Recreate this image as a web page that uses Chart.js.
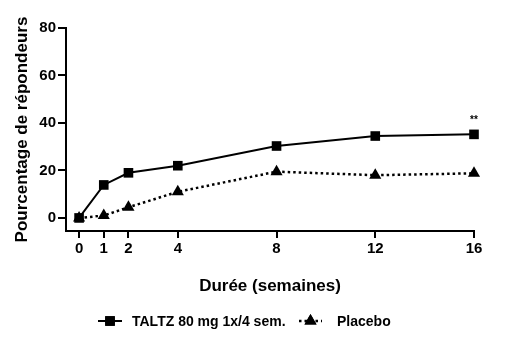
<!DOCTYPE html>
<html lang="fr">
<head>
<meta charset="utf-8">
<title>Pourcentage de répondeurs</title>
<script src="https://cdn.jsdelivr.net/npm/chart.js@4.4.1/dist/chart.umd.min.js"></script>
<style>
    html, body { margin: 0; padding: 0; background: #fff; }
    #wrap { position: relative; width: 508px; height: 350px; }
</style>
</head>
<body>
<div id="wrap"><canvas id="responseChart"></canvas></div>
<script>
// ===== DATA =====
const weeks = [0, 1, 2, 4, 8, 12, 16];
const taltzValues = [0, 13.9, 19, 22, 30.3, 34.5, 35.2];
const placeboValues = [0, 1, 4.5, 11, 19.5, 18, 18.8];
const xTicks = [0, 1, 2, 4, 8, 12, 16];
const yTicks = [0, 20, 40, 60, 80];
const seriesNames = ['TALTZ 80 mg 1x/4 sem.', 'Placebo'];
const significance = '**';

const FONT = "'Liberation Sans', Arial, sans-serif";

// ===== LEGEND (line + marker samples) =====
const sampleLegend = {
    id: 'sampleLegend',
    afterDraw(chart) {
        const ctx = chart.ctx;
        const y = 321;
        const items = [
            { ds: chart.data.datasets[0], x0: 98, x1: 122, label: 132 },
            { ds: chart.data.datasets[1], x0: 299, x1: 322, label: 337 }
        ];
        ctx.save();
        items.forEach(it => {
            ctx.strokeStyle = it.ds.borderColor;
            ctx.lineWidth = it.ds.borderWidth;
            ctx.setLineDash(it.ds.borderDash || []);
            ctx.beginPath();
            ctx.moveTo(it.x0, y);
            ctx.lineTo(it.x1, y);
            ctx.stroke();
            ctx.setLineDash([]);
            ctx.fillStyle = it.ds.pointBackgroundColor;
            Chart.helpers.drawPoint(ctx, {
                pointStyle: it.ds.pointStyle,
                radius: it.ds.pointRadius,
                borderWidth: 0,
                rotation: 0
            }, (it.x0 + it.x1) / 2, y);
            ctx.fill();
            ctx.fillStyle = '#000';
            ctx.font = 'bold 14px ' + FONT;
            ctx.textAlign = 'left';
            ctx.textBaseline = 'middle';
            ctx.fillText(it.ds.label, it.label, y + 1);
        });
        ctx.restore();
    }
};

// ===== SIGNIFICANCE MARK =====
const starMark = {
    id: 'starMark',
    afterDatasetsDraw(chart) {
        const xs = chart.scales.x, ys = chart.scales.y;
        const last = weeks.length - 1;
        const ctx = chart.ctx;
        ctx.save();
        ctx.fillStyle = '#000';
        ctx.font = 'bold 10px ' + FONT;
        ctx.textAlign = 'center';
        ctx.textBaseline = 'middle';
        ctx.fillText(significance, xs.getPixelForValue(weeks[last]), ys.getPixelForValue(taltzValues[last]) - 14);
        ctx.restore();
    }
};

const ctxEl = document.getElementById('responseChart');
new Chart(ctxEl, {
    type: 'line',
    data: {
        datasets: [{
            label: seriesNames[0],
            data: weeks.map((w, i) => ({ x: w, y: taltzValues[i] })),
            borderColor: '#000',
            borderWidth: 2,
            pointStyle: 'rect',
            pointRadius: 6.8,
            pointBackgroundColor: '#000',
            pointBorderWidth: 0,
            tension: 0,
            clip: false
        }, {
            label: seriesNames[1],
            data: weeks.map((w, i) => ({ x: w, y: placeboValues[i] })),
            borderColor: '#000',
            borderWidth: 2.5,
            borderDash: [2.5, 3],
            pointStyle: 'triangle',
            pointRadius: 7,
            pointBackgroundColor: '#000',
            pointBorderWidth: 0,
            tension: 0,
            clip: false
        }]
    },
    options: {
        responsive: true,
        maintainAspectRatio: false,
        animation: false,
        layout: { padding: { left: 0, right: 34, top: 28, bottom: 50 } },
        plugins: {
            legend: { display: false },
            tooltip: { enabled: false }
        },
        scales: {
            x: {
                type: 'linear',
                min: -0.53,
                max: 16,
                afterBuildTicks: scale => { scale.ticks = xTicks.map(v => ({ value: v })); },
                afterFit: scale => { scale.height = 69; },
                border: { display: true, color: '#000', width: 2 },
                grid: { drawOnChartArea: false, drawTicks: true, tickLength: 7, color: '#000', lineWidth: 2 },
                ticks: { color: '#000', padding: 2, maxRotation: 0, font: { family: FONT, size: 15, weight: 'bold' } },
                title: {
                    display: true,
                    text: 'Durée (semaines)',
                    color: '#000',
                    padding: { top: 4, bottom: 3 },
                    font: { family: FONT, size: 17, weight: 'bold' }
                }
            },
            y: {
                min: -5.5,
                max: 80,
                afterBuildTicks: scale => { scale.ticks = yTicks.map(v => ({ value: v })); },
                afterFit: scale => { scale.width = 66; },
                border: { display: true, color: '#000', width: 2 },
                grid: { drawOnChartArea: false, drawTicks: true, tickLength: 8, color: '#000', lineWidth: 2 },
                ticks: { color: '#000', padding: 2, font: { family: FONT, size: 15, weight: 'bold' } },
                title: {
                    display: true,
                    text: 'Pourcentage de répondeurs',
                    color: '#000',
                    padding: { top: 12, bottom: 4 },
                    font: { family: FONT, size: 17, weight: 'bold' }
                }
            }
        }
    },
    plugins: [sampleLegend, starMark]
});
</script>
</body>
</html>
